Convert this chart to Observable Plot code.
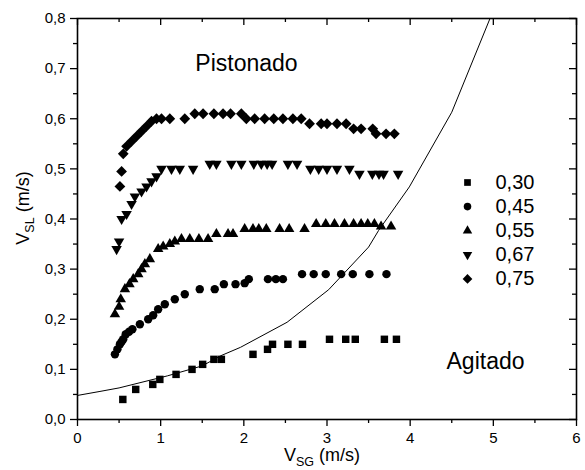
<!DOCTYPE html>
<html>
<head>
<meta charset="utf-8">
<script src="https://cdn.jsdelivr.net/npm/d3@7"></script>
<script src="https://cdn.jsdelivr.net/npm/@observablehq/plot@0.6"></script>
<style>
  html, body { margin: 0; padding: 0; background: #fff; }
  #chart svg { display: block; }
</style>
</head>
<body>
<div id="chart"></div>
<script>
// ---- data ----
const seriesNames = ["0,30", "0,45", "0,55", "0,67", "0,75"];

const x030 = [0.545,0.70,0.905,0.99,1.185,1.377,1.505,1.64,1.73,2.11,2.285,2.345,2.53,2.705,3.03,3.225,3.34,3.69,3.835];
const y030 = [0.040,0.060,0.070,0.080,0.090,0.100,0.110,0.120,0.120,0.130,0.140,0.150,0.150,0.150,0.160,0.160,0.160,0.160,0.160];

const x045 = [0.45,0.48,0.51,0.53,0.55,0.58,0.62,0.66,0.75,0.85,0.91,0.97,1.05,1.17,1.29,1.47,1.65,1.76,1.90,2.01,2.06,2.29,2.385,2.47,2.70,2.84,2.985,3.17,3.31,3.51,3.715];
const y045 = [0.130,0.140,0.150,0.155,0.160,0.170,0.175,0.180,0.190,0.200,0.208,0.220,0.230,0.240,0.250,0.260,0.260,0.270,0.270,0.272,0.280,0.280,0.280,0.280,0.290,0.290,0.290,0.290,0.290,0.290,0.290];

const x055 = [0.45,0.50,0.52,0.57,0.625,0.67,0.73,0.77,0.81,0.87,0.97,1.03,1.11,1.17,1.25,1.35,1.46,1.57,1.67,1.81,1.87,2.01,2.11,2.18,2.27,2.43,2.545,2.73,2.87,2.985,3.09,3.21,3.32,3.41,3.49,3.57,3.65,3.77];
const y055 = [0.21,0.225,0.24,0.26,0.27,0.28,0.29,0.30,0.31,0.32,0.34,0.345,0.35,0.355,0.36,0.36,0.36,0.36,0.37,0.37,0.37,0.38,0.38,0.38,0.38,0.38,0.38,0.38,0.39,0.39,0.39,0.39,0.39,0.39,0.39,0.39,0.385,0.385];

const x067 = [0.47,0.50,0.53,0.59,0.65,0.69,0.77,0.83,0.89,0.95,1.01,1.13,1.23,1.39,1.59,1.67,1.85,1.97,2.12,2.21,2.28,2.34,2.53,2.64,2.80,2.90,3.00,3.12,3.27,3.39,3.545,3.625,3.68,3.855];
const y067 = [0.34,0.355,0.40,0.41,0.43,0.445,0.455,0.465,0.475,0.485,0.50,0.50,0.50,0.50,0.51,0.51,0.51,0.51,0.51,0.51,0.51,0.51,0.51,0.51,0.50,0.50,0.50,0.50,0.50,0.49,0.49,0.49,0.49,0.49];

const x075 = [0.51,0.53,0.55,0.59,0.65,0.71,0.77,0.83,0.89,0.95,1.01,1.11,1.29,1.41,1.51,1.64,1.75,1.84,1.97,2.03,2.13,2.25,2.36,2.47,2.59,2.69,2.79,2.93,3.00,3.12,3.23,3.32,3.41,3.55,3.59,3.71,3.81];
const y075 = [0.465,0.495,0.53,0.545,0.555,0.565,0.575,0.585,0.595,0.60,0.60,0.60,0.60,0.61,0.61,0.61,0.61,0.61,0.61,0.60,0.60,0.60,0.60,0.60,0.60,0.60,0.59,0.59,0.59,0.59,0.59,0.58,0.58,0.58,0.57,0.57,0.57];

// transition curve
const curveX = [0, 0.27, 0.5, 1.08, 1.5, 1.72, 1.96, 2.52, 3.02, 3.5, 3.62, 3.99, 4.5, 4.96];
const curveY = [0.048, 0.056, 0.063, 0.087, 0.107, 0.127, 0.144, 0.194, 0.259, 0.344, 0.377, 0.464, 0.613, 0.8];

const xMajor = [0, 1, 2, 3, 4, 5, 6];
const xMinor = [0.5, 1.5, 2.5, 3.5, 4.5, 5.5];
const yMajor = [0, 0.1, 0.2, 0.3, 0.4, 0.5, 0.6, 0.7, 0.8];
const yMinor = [0.05, 0.15, 0.25, 0.35, 0.45, 0.55, 0.65, 0.75];

const regionLabels = ["Pistonado", "Agitado"];

// ---- build tables ----
const seriesX = [x030, x045, x055, x067, x075];
const seriesY = [y030, y045, y055, y067, y075];
const points = seriesNames.flatMap((s, i) => seriesX[i].map((x, j) => ({series: s, x, y: seriesY[i][j]})));
const curve = curveX.map((x, i) => ({x, y: curveY[i]}));

// ---- layout / style ----
const W = 585, H = 470;
const mL = 77, mR = 9, mT = 18, mB = 51;
const plotW = W - mL - mR, plotH = H - mT - mB;
const font = "'Liberation Sans', Arial, Helvetica, sans-serif";
const symStyle = [
  {symbol: "square", r: 4.2, rotate: 0},
  {symbol: "circle", r: 4.2, rotate: 0},
  {symbol: "triangle", r: 3.9, rotate: 0},
  {symbol: "triangle", r: 3.9, rotate: 180},
  {symbol: "square", r: 4.3, rotate: 45}
];
const fmtY = d => d.toFixed(1).replace(".", ",");

const seriesMarks = seriesNames.map((s, i) =>
  Plot.dot(points.filter(p => p.series === s), {
    x: "x", y: "y", fill: "black", stroke: "none",
    symbol: symStyle[i].symbol, r: symStyle[i].r, rotate: symStyle[i].rotate
  })
);

const legendMarks = seriesNames.flatMap((s, i) => [
  Plot.dot([s], {
    frameAnchor: "top-left", dx: 390, dy: 164 + i * 24.1,
    fill: "black", stroke: "none",
    symbol: symStyle[i].symbol, r: symStyle[i].r * 0.9, rotate: symStyle[i].rotate
  }),
  Plot.text([s], {
    frameAnchor: "top-left", dx: 418, dy: 164 + i * 24.1,
    text: d => d, textAnchor: "start", lineAnchor: "middle",
    fontSize: 20, fill: "black"
  })
]);

const chart = Plot.plot({
  width: W, height: H,
  marginLeft: mL, marginRight: mR, marginTop: mT, marginBottom: mB,
  style: {fontFamily: font, background: "white", color: "black", overflow: "visible"},
  x: {domain: [0, 6], axis: null},
  y: {domain: [0, 0.8], axis: null},
  marks: [
    // axes (bottom/left outward ticks)
    Plot.axisX(xMajor, {anchor: "bottom", tickSize: 7, tickPadding: 6, fontSize: 15, tickFormat: d => String(d), label: null, strokeWidth: 1.3}),
    Plot.axisX(xMinor, {anchor: "bottom", tickSize: 4, tickFormat: () => "", label: null, strokeWidth: 1.3}),
    Plot.axisY(yMajor, {anchor: "left", tickSize: 7, tickPadding: 5, fontSize: 15, tickFormat: fmtY, label: null, strokeWidth: 1.3}),
    Plot.axisY(yMinor, {anchor: "left", tickSize: 4, tickFormat: () => "", label: null, strokeWidth: 1.3}),
    // top/right inward ticks
    Plot.tickX(xMajor, {x: d => d, insetBottom: plotH - 7, stroke: "black", strokeWidth: 1.3}),
    Plot.tickX(xMinor, {x: d => d, insetBottom: plotH - 4, stroke: "black", strokeWidth: 1.3}),
    Plot.tickY(yMajor, {y: d => d, insetLeft: plotW - 7, stroke: "black", strokeWidth: 1.3}),
    Plot.tickY(yMinor, {y: d => d, insetLeft: plotW - 4, stroke: "black", strokeWidth: 1.3}),
    // curve
    Plot.line(curve, {x: "x", y: "y", stroke: "black", strokeWidth: 1, clip: true}),
    // data
    ...seriesMarks,
    // region labels
    Plot.text([regionLabels[0]], {frameAnchor: "top-left", dx: 169, dy: 52, text: d => d, textAnchor: "middle", lineAnchor: "bottom", fontSize: 23, fill: "black"}),
    Plot.text([regionLabels[1]], {frameAnchor: "top-left", dx: 408, dy: 350, text: d => d, textAnchor: "middle", lineAnchor: "bottom", fontSize: 23, fill: "black"}),
    // legend
    ...legendMarks,
    Plot.frame({stroke: "black", strokeWidth: 1.6})
  ]
});

// axis titles with subscripts
const svg = d3.select(chart);
const xt = svg.append("text")
  .attr("x", 322).attr("y", 461)
  .attr("text-anchor", "middle")
  .attr("font-family", font).attr("font-size", 18).attr("fill", "black");
xt.append("tspan").text("V");
xt.append("tspan").attr("font-size", 12.5).attr("dy", 5).text("SG");
xt.append("tspan").attr("dy", -5).text(" (m/s)");

const yt = svg.append("text")
  .attr("transform", "translate(29,208) rotate(-90)")
  .attr("text-anchor", "middle")
  .attr("font-family", font).attr("font-size", 18).attr("fill", "black");
yt.append("tspan").text("V");
yt.append("tspan").attr("font-size", 12.5).attr("dy", 5).text("SL");
yt.append("tspan").attr("dy", -5).text(" (m/s)");

document.getElementById("chart").appendChild(chart);
</script>
</body>
</html>
